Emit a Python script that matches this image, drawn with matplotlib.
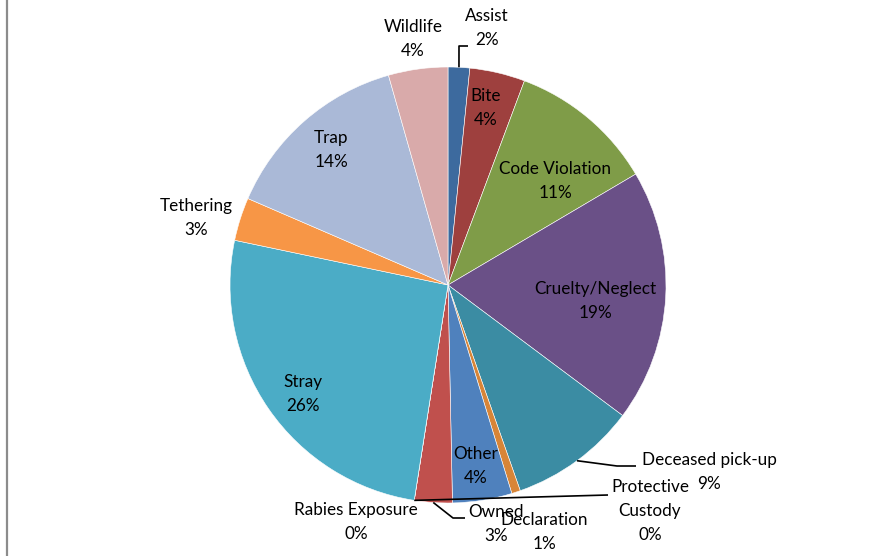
import matplotlib
matplotlib.use("Agg")
import matplotlib.pyplot as plt
import numpy as np

categories = ["Assist", "Bite", "Code Violation", "Cruelty/Neglect", "Deceased pick-up",
              "Declaration", "Other", "Owned", "Protective\nCustody", "Rabies Exposure",
              "Stray", "Tethering", "Trap", "Wildlife"]
values = [1.6, 4.1, 10.8, 18.7, 9.4, 0.65, 4.4, 2.8, 0.0, 0.0, 25.8, 3.2, 14.1, 4.4]
colors = ["#3D6A9E", "#9E403E", "#7F9C48", "#6A5087", "#3B8CA3", "#D88537", "#4F81BD",
          "#C0504D", "#9BBB59", "#8064A2", "#4BACC6", "#F79646", "#AAB9D7", "#D9AAAA"]

# layout (pixel coordinates of label centres)
label_pos = [(487, 28), (486, 108), (555, 181), (595, 301), (709, 472), (544, 532),
             (476, 466), (496, 524), (650, 511), (356, 522), (303, 394), (196, 218),
             (331, 150), (413, 39)]
# leader elbows (pixel coords)
leaders = {0: [(459, 46), (468, 46)],
           4: [(617, 466), (636, 466)],
           7: [(453, 518), (465, 518)],
           8: [(608, 495)]}

W, H = 870, 556
cx, cy, R = 448, 285, 218

fig = plt.figure(figsize=(W / 100, H / 100), dpi=100)
ax = fig.add_axes([0, 0, 1, 1])

wedges, _ = ax.pie(values, colors=colors, startangle=-90, counterclock=True,
                   center=(cx, cy), radius=R, frame=True,
                   wedgeprops=dict(edgecolor="white", linewidth=0.4))
ax.set_xlim(0, W)
ax.set_ylim(H, 0)
ax.set_aspect("equal")
ax.axis("off")

total = sum(values)
for i, (cat, v) in enumerate(zip(categories, values)):
    pct = int(round(v / total * 100))
    x, y = label_pos[i]
    ax.text(x, y, f"{cat}\n{pct}%", ha="center", va="center", fontsize=12.3,
            family=["Lato", "DejaVu Sans"], color="black", linespacing=1.6)
    if i in leaders:
        w = wedges[i]
        mid = np.deg2rad((w.theta1 + w.theta2) / 2)
        sx, sy = cx + R * np.cos(mid), cy + R * np.sin(mid)
        pts = [(sx, sy)] + leaders[i]
        ax.plot([p[0] for p in pts], [p[1] for p in pts], color="black", lw=1.2,
                solid_capstyle="butt")

# left border line
fig.add_artist(plt.Line2D([7.5 / W, 7.5 / W], [0, 1], color="#8C8C8C", lw=1.6,
                          transform=fig.transFigure))

fig.savefig("out.png", dpi=100, facecolor="white")
